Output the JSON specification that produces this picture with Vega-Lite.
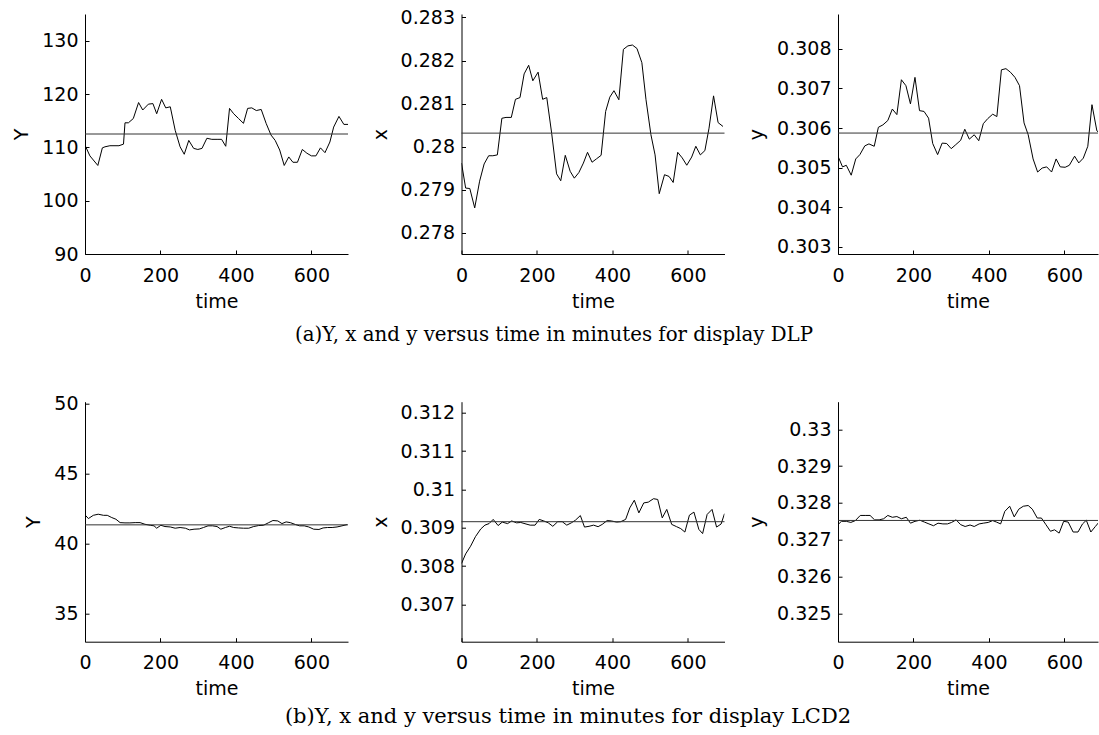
{
  "$schema": "https://vega.github.io/schema/vega-lite/v6.json",
  "padding": {"left": 12, "top": 8, "right": 0, "bottom": 0},
  "background": "white",
  "config": {
    "view": {"stroke": null},
    "font": "DejaVu Sans",
    "axis": {
      "labelFont": "DejaVu Sans", "labelFontSize": 19, "labelColor": "black",
      "titleFont": "DejaVu Sans", "titleFontSize": 19, "titleFontWeight": "normal", "titleColor": "black",
      "domainColor": "black", "tickColor": "black", "tickSize": -4, "grid": false,
      "labelFlush": false, "labelOverlap": false
    },
    "axisX": {"labelPadding": 16, "titlePadding": 7},
    "axisY": {"labelPadding": 11, "titlePadding": 10},
    "title": {"font": "DejaVu Serif", "fontWeight": "normal", "color": "black"}
  },
  "datasets": {
    "dlpY": [
      {"t":0,"v":110.4},{"t":13,"v":108.4},{"t":34,"v":106.6},{"t":46,"v":109.9},{"t":53,"v":110.1},{"t":66,"v":110.3},{"t":90,"v":110.3},{"t":102,"v":110.6},{"t":106,"v":114.6},{"t":115,"v":114.6},{"t":128,"v":115.4},{"t":142,"v":118.4},{"t":153,"v":117.0},{"t":168,"v":118.1},{"t":180,"v":118.2},{"t":190,"v":116.3},{"t":203,"v":119.0},{"t":214,"v":117.4},{"t":226,"v":117.6},{"t":239,"v":113.2},{"t":252,"v":110.1},{"t":263,"v":108.7},{"t":275,"v":111.3},{"t":288,"v":109.8},{"t":299,"v":109.6},{"t":310,"v":109.8},{"t":323,"v":111.7},{"t":336,"v":111.5},{"t":350,"v":111.5},{"t":362,"v":111.5},{"t":373,"v":110.2},{"t":383,"v":117.3},{"t":394,"v":116.3},{"t":407,"v":115.4},{"t":420,"v":114.5},{"t":431,"v":117.3},{"t":442,"v":117.4},{"t":454,"v":116.9},{"t":467,"v":117.1},{"t":480,"v":114.5},{"t":493,"v":112.3},{"t":504,"v":111.3},{"t":516,"v":109.5},{"t":528,"v":106.6},{"t":540,"v":108.2},{"t":551,"v":107.2},{"t":563,"v":107.2},{"t":576,"v":109.6},{"t":588,"v":108.9},{"t":600,"v":108.4},{"t":612,"v":108.4},{"t":624,"v":109.9},{"t":636,"v":109.0},{"t":649,"v":111.0},{"t":659,"v":113.8},{"t":673,"v":115.8},{"t":686,"v":114.3},{"t":697,"v":114.3}
    ],
    "dlpx": [
      {"t":0,"v":0.27962},{"t":11,"v":0.27904},{"t":22,"v":0.27903},{"t":35,"v":0.27858},{"t":48,"v":0.27920},{"t":60,"v":0.27960},{"t":72,"v":0.27979},{"t":83,"v":0.27979},{"t":95,"v":0.27981},{"t":107,"v":0.28066},{"t":118,"v":0.28068},{"t":132,"v":0.28068},{"t":143,"v":0.28110},{"t":155,"v":0.28114},{"t":166,"v":0.28169},{"t":178,"v":0.28189},{"t":189,"v":0.28153},{"t":203,"v":0.28173},{"t":215,"v":0.28110},{"t":226,"v":0.28114},{"t":239,"v":0.28031},{"t":252,"v":0.27937},{"t":263,"v":0.27921},{"t":275,"v":0.27980},{"t":288,"v":0.27943},{"t":299,"v":0.27927},{"t":311,"v":0.27940},{"t":323,"v":0.27962},{"t":334,"v":0.27987},{"t":346,"v":0.27964},{"t":358,"v":0.27972},{"t":370,"v":0.27980},{"t":382,"v":0.28082},{"t":393,"v":0.28115},{"t":404,"v":0.28130},{"t":417,"v":0.28109},{"t":429,"v":0.28226},{"t":441,"v":0.28234},{"t":453,"v":0.28236},{"t":465,"v":0.28228},{"t":478,"v":0.28195},{"t":489,"v":0.28109},{"t":502,"v":0.28028},{"t":513,"v":0.27981},{"t":524,"v":0.27891},{"t":538,"v":0.27935},{"t":550,"v":0.27931},{"t":561,"v":0.27917},{"t":573,"v":0.27987},{"t":585,"v":0.27974},{"t":597,"v":0.27957},{"t":610,"v":0.27976},{"t":621,"v":0.28001},{"t":633,"v":0.27981},{"t":645,"v":0.27991},{"t":656,"v":0.28043},{"t":668,"v":0.28118},{"t":680,"v":0.28056},{"t":693,"v":0.28047}
    ],
    "dlpy": [
      {"t":0,"v":0.30529},{"t":12,"v":0.30502},{"t":22,"v":0.30506},{"t":35,"v":0.30481},{"t":47,"v":0.30522},{"t":58,"v":0.30533},{"t":71,"v":0.30555},{"t":82,"v":0.30560},{"t":96,"v":0.30554},{"t":107,"v":0.30602},{"t":119,"v":0.30608},{"t":132,"v":0.30619},{"t":144,"v":0.30648},{"t":156,"v":0.30634},{"t":168,"v":0.30722},{"t":180,"v":0.30707},{"t":192,"v":0.30661},{"t":204,"v":0.30728},{"t":216,"v":0.30644},{"t":228,"v":0.30642},{"t":240,"v":0.30625},{"t":251,"v":0.30561},{"t":264,"v":0.30533},{"t":276,"v":0.30562},{"t":288,"v":0.30561},{"t":300,"v":0.30548},{"t":312,"v":0.30558},{"t":325,"v":0.30569},{"t":336,"v":0.30597},{"t":348,"v":0.30572},{"t":361,"v":0.30583},{"t":373,"v":0.30568},{"t":385,"v":0.30611},{"t":397,"v":0.30624},{"t":410,"v":0.30635},{"t":421,"v":0.30629},{"t":433,"v":0.30747},{"t":445,"v":0.30750},{"t":457,"v":0.30741},{"t":469,"v":0.30728},{"t":481,"v":0.30707},{"t":493,"v":0.30613},{"t":504,"v":0.30583},{"t":517,"v":0.30522},{"t":529,"v":0.30489},{"t":541,"v":0.30499},{"t":553,"v":0.30502},{"t":566,"v":0.30489},{"t":578,"v":0.30522},{"t":589,"v":0.30502},{"t":602,"v":0.30501},{"t":613,"v":0.30506},{"t":627,"v":0.30529},{"t":638,"v":0.30512},{"t":650,"v":0.30524},{"t":662,"v":0.30554},{"t":673,"v":0.30659},{"t":686,"v":0.30593},{"t":697,"v":0.30585}
    ],
    "lcdY": [
      {"t":0,"v":42.04},{"t":9,"v":41.78},{"t":22,"v":42.01},{"t":35,"v":42.09},{"t":49,"v":42.01},{"t":59,"v":42.01},{"t":71,"v":41.85},{"t":82,"v":41.73},{"t":93,"v":41.49},{"t":106,"v":41.47},{"t":119,"v":41.47},{"t":133,"v":41.49},{"t":146,"v":41.49},{"t":159,"v":41.37},{"t":173,"v":41.30},{"t":183,"v":41.26},{"t":190,"v":41.09},{"t":201,"v":41.30},{"t":212,"v":41.21},{"t":226,"v":41.18},{"t":239,"v":41.09},{"t":252,"v":41.14},{"t":266,"v":41.09},{"t":277,"v":40.97},{"t":289,"v":41.02},{"t":303,"v":41.04},{"t":314,"v":41.14},{"t":326,"v":41.26},{"t":338,"v":41.26},{"t":350,"v":41.21},{"t":360,"v":41.02},{"t":372,"v":41.14},{"t":383,"v":41.23},{"t":394,"v":41.14},{"t":407,"v":41.11},{"t":420,"v":41.09},{"t":434,"v":41.09},{"t":447,"v":41.21},{"t":460,"v":41.28},{"t":473,"v":41.30},{"t":487,"v":41.49},{"t":498,"v":41.64},{"t":511,"v":41.61},{"t":522,"v":41.42},{"t":533,"v":41.54},{"t":544,"v":41.49},{"t":558,"v":41.35},{"t":569,"v":41.26},{"t":581,"v":41.26},{"t":593,"v":41.18},{"t":606,"v":41.02},{"t":620,"v":41.00},{"t":631,"v":41.11},{"t":643,"v":41.14},{"t":655,"v":41.14},{"t":668,"v":41.18},{"t":681,"v":41.26},{"t":695,"v":41.35}
    ],
    "lcdx": [
      {"t":0,"v":0.30807},{"t":11,"v":0.30832},{"t":24,"v":0.30852},{"t":37,"v":0.30877},{"t":51,"v":0.30897},{"t":62,"v":0.30907},{"t":73,"v":0.30911},{"t":84,"v":0.30922},{"t":97,"v":0.30906},{"t":108,"v":0.30915},{"t":122,"v":0.30911},{"t":133,"v":0.30918},{"t":146,"v":0.30913},{"t":157,"v":0.30914},{"t":171,"v":0.30910},{"t":182,"v":0.30907},{"t":195,"v":0.30907},{"t":206,"v":0.30922},{"t":218,"v":0.30918},{"t":230,"v":0.30913},{"t":242,"v":0.30904},{"t":255,"v":0.30916},{"t":267,"v":0.30916},{"t":279,"v":0.30907},{"t":291,"v":0.30913},{"t":302,"v":0.30920},{"t":315,"v":0.30932},{"t":326,"v":0.30902},{"t":338,"v":0.30904},{"t":350,"v":0.30907},{"t":362,"v":0.30903},{"t":373,"v":0.30909},{"t":386,"v":0.30919},{"t":397,"v":0.30918},{"t":411,"v":0.30915},{"t":422,"v":0.30916},{"t":435,"v":0.30922},{"t":446,"v":0.30952},{"t":458,"v":0.30972},{"t":470,"v":0.30939},{"t":483,"v":0.30965},{"t":495,"v":0.30967},{"t":509,"v":0.30976},{"t":520,"v":0.30974},{"t":532,"v":0.30926},{"t":544,"v":0.30948},{"t":557,"v":0.30909},{"t":570,"v":0.30903},{"t":581,"v":0.30898},{"t":592,"v":0.30889},{"t":604,"v":0.30933},{"t":616,"v":0.30941},{"t":629,"v":0.30896},{"t":639,"v":0.30885},{"t":651,"v":0.30935},{"t":664,"v":0.30948},{"t":676,"v":0.30902},{"t":688,"v":0.30910},{"t":697,"v":0.30937}
    ],
    "lcdy": [
      {"t":0,"v":0.32741},{"t":9,"v":0.32750},{"t":22,"v":0.32750},{"t":34,"v":0.32747},{"t":46,"v":0.32752},{"t":59,"v":0.32766},{"t":72,"v":0.32766},{"t":85,"v":0.32766},{"t":97,"v":0.32754},{"t":109,"v":0.32754},{"t":121,"v":0.32757},{"t":132,"v":0.32766},{"t":144,"v":0.32761},{"t":156,"v":0.32763},{"t":168,"v":0.32757},{"t":181,"v":0.32761},{"t":192,"v":0.32745},{"t":204,"v":0.32750},{"t":217,"v":0.32753},{"t":229,"v":0.32748},{"t":241,"v":0.32743},{"t":253,"v":0.32738},{"t":265,"v":0.32745},{"t":278,"v":0.32743},{"t":290,"v":0.32743},{"t":301,"v":0.32747},{"t":313,"v":0.32754},{"t":325,"v":0.32741},{"t":337,"v":0.32736},{"t":350,"v":0.32740},{"t":361,"v":0.32736},{"t":374,"v":0.32743},{"t":385,"v":0.32745},{"t":398,"v":0.32747},{"t":410,"v":0.32752},{"t":420,"v":0.32748},{"t":431,"v":0.32743},{"t":442,"v":0.32777},{"t":455,"v":0.32791},{"t":467,"v":0.32762},{"t":479,"v":0.32783},{"t":491,"v":0.32791},{"t":504,"v":0.32793},{"t":515,"v":0.32783},{"t":528,"v":0.32759},{"t":539,"v":0.32759},{"t":551,"v":0.32741},{"t":563,"v":0.32723},{"t":574,"v":0.32727},{"t":586,"v":0.32718},{"t":598,"v":0.32750},{"t":610,"v":0.32748},{"t":623,"v":0.32721},{"t":636,"v":0.32721},{"t":648,"v":0.32743},{"t":658,"v":0.32753},{"t":670,"v":0.32721},{"t":682,"v":0.32736},{"t":691,"v":0.32747}
    ]
  },
  "columns": 3,
  "bounds": "flush",
  "spacing": {"row": 147.7, "column": 113.5},
  "concat": [
    {
      "width": 263, "height": 240,
      "layer": [
        {"data": {"name": "dlpY"}, "mark": {"type": "line", "color": "black", "strokeWidth": 1, "clip": true},
         "encoding": {
           "x": {"field": "t", "type": "quantitative", "scale": {"domain": [0, 697], "nice": false, "zero": false}, "axis": {"title": "time", "values": [0, 200, 400, 600]}},
           "y": {"field": "v", "type": "quantitative", "scale": {"domain": [90, 135], "nice": false, "zero": false}, "axis": {"title": "Y", "values": [90, 100, 110, 120, 130], "format": "~r"}}}},
        {"data": {"values": [{}]}, "mark": {"type": "rule", "color": "#333333", "strokeWidth": 1}, "encoding": {"y": {"datum": 112.5}}}
      ]
    },
    {
      "width": 263, "height": 240,
      "title": {"text": "(a)Y, x and y versus time in minutes for display DLP", "orient": "bottom", "anchor": "middle", "frame": "group", "dx": -39, "offset": 14, "fontSize": 19.8},
      "layer": [
        {"data": {"name": "dlpx"}, "mark": {"type": "line", "color": "black", "strokeWidth": 1, "clip": true},
         "encoding": {
           "x": {"field": "t", "type": "quantitative", "scale": {"domain": [0, 697], "nice": false, "zero": false}, "axis": {"title": "time", "values": [0, 200, 400, 600]}},
           "y": {"field": "v", "type": "quantitative", "scale": {"domain": [0.27751, 0.28308], "nice": false, "zero": false}, "axis": {"title": "x", "values": [0.278, 0.279, 0.28, 0.281, 0.282, 0.283], "format": "~r"}}}},
        {"data": {"values": [{}]}, "mark": {"type": "rule", "color": "#333333", "strokeWidth": 1}, "encoding": {"y": {"datum": 0.280315}}}
      ]
    },
    {
      "width": 260, "height": 240,
      "layer": [
        {"data": {"name": "dlpy"}, "mark": {"type": "line", "color": "black", "strokeWidth": 1, "clip": true},
         "encoding": {
           "x": {"field": "t", "type": "quantitative", "scale": {"domain": [0, 689], "nice": false, "zero": false}, "axis": {"title": "time", "values": [0, 200, 400, 600]}},
           "y": {"field": "v", "type": "quantitative", "scale": {"domain": [0.30282, 0.30888], "nice": false, "zero": false}, "axis": {"title": "y", "values": [0.303, 0.304, 0.305, 0.306, 0.307, 0.308], "format": "~r"}}}},
        {"data": {"values": [{}]}, "mark": {"type": "rule", "color": "#333333", "strokeWidth": 1}, "encoding": {"y": {"datum": 0.305874}}}
      ]
    },
    {
      "width": 263, "height": 240,
      "layer": [
        {"data": {"name": "lcdY"}, "mark": {"type": "line", "color": "black", "strokeWidth": 1, "clip": true},
         "encoding": {
           "x": {"field": "t", "type": "quantitative", "scale": {"domain": [0, 697], "nice": false, "zero": false}, "axis": {"title": "time", "values": [0, 200, 400, 600]}},
           "y": {"field": "v", "type": "quantitative", "scale": {"domain": [32.99, 50.12], "nice": false, "zero": false}, "axis": {"title": "Y", "values": [35, 40, 45, 50], "format": "~r"}}}},
        {"data": {"values": [{}]}, "mark": {"type": "rule", "color": "#333333", "strokeWidth": 1}, "encoding": {"y": {"datum": 41.33}}}
      ]
    },
    {
      "width": 263, "height": 240,
      "title": {"text": "(b)Y, x and y versus time in minutes for display LCD2", "orient": "bottom", "anchor": "middle", "frame": "group", "dx": -25, "offset": 7, "fontSize": 21},
      "layer": [
        {"data": {"name": "lcdx"}, "mark": {"type": "line", "color": "black", "strokeWidth": 1, "clip": true},
         "encoding": {
           "x": {"field": "t", "type": "quantitative", "scale": {"domain": [0, 697], "nice": false, "zero": false}, "axis": {"title": "time", "values": [0, 200, 400, 600]}},
           "y": {"field": "v", "type": "quantitative", "scale": {"domain": [0.30603, 0.31229], "nice": false, "zero": false}, "axis": {"title": "x", "values": [0.307, 0.308, 0.309, 0.31, 0.311, 0.312], "format": "~r"}}}},
        {"data": {"values": [{}]}, "mark": {"type": "rule", "color": "#333333", "strokeWidth": 1}, "encoding": {"y": {"datum": 0.30916}}}
      ]
    },
    {
      "width": 260, "height": 240,
      "layer": [
        {"data": {"name": "lcdy"}, "mark": {"type": "line", "color": "black", "strokeWidth": 1, "clip": true},
         "encoding": {
           "x": {"field": "t", "type": "quantitative", "scale": {"domain": [0, 689], "nice": false, "zero": false}, "axis": {"title": "time", "values": [0, 200, 400, 600]}},
           "y": {"field": "v", "type": "quantitative", "scale": {"domain": [0.32423, 0.33075], "nice": false, "zero": false}, "axis": {"title": "y", "values": [0.325, 0.326, 0.327, 0.328, 0.329, 0.33], "format": "~r"}}}},
        {"data": {"values": [{}]}, "mark": {"type": "rule", "color": "#333333", "strokeWidth": 1}, "encoding": {"y": {"datum": 0.327524}}}
      ]
    }
  ]
}
